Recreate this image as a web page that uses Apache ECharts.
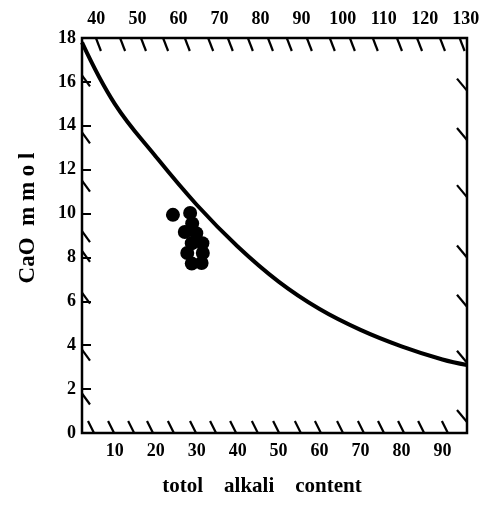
<!DOCTYPE html>
<html>
<head>
<meta charset="utf-8">
<style>
	html, body {margin: 0; padding: 0; background: #fff;}
	#chart-cao {width: 492px; height: 506px;}
</style>
<script src="https://cdn.jsdelivr.net/npm/echarts@6/dist/echarts.min.js"></script>
</head>
<body>
<div id="chart-cao"></div>
<script type="text/javascript">
	// 底部和顶部刻度
	var bottomTicks = [10, 20, 30, 40, 50, 60, 70, 80, 90];
	var topTicks = [40, 50, 60, 70, 80, 90, 100, 110, 120, 130];
	// 曲线
	var curveX = [2, 10, 20, 30, 40, 50, 60, 70, 80, 90, 96];
	var curveY = [17.8, 15.0, 12.6, 10.4, 8.5, 6.9, 5.65, 4.7, 3.95, 3.35, 3.1];
	// 样品点
	var sampleX = [24.2, 28.4, 28.9, 27.1, 29.9, 31.4, 28.8, 27.7, 31.5, 28.8, 31.2];
	var sampleY = [9.94, 10.03, 9.55, 9.16, 9.1, 8.65, 8.65, 8.2, 8.2, 7.72, 7.75];
	// 边框上的斜线
	var hatchTopX = [5.4, 11.3, 16.4, 21.8, 27.1, 32.8, 37.6, 42.5, 47.4, 52.0, 56.9, 62.5, 67.4, 73.0, 78.9, 83.8, 89.4, 94.2];
	var hatchBottomX = [4.2, 9.1, 14.0, 18.6, 23.7, 29.1, 34.0, 38.9, 44.2, 49.4, 54.7, 59.6, 65.0, 70.1, 75.0, 79.9, 84.8, 90.6];
	var hatchLeftY = [16.3, 13.7, 11.5, 9.2, 8.3, 6.4, 3.8, 1.8];
	var hatchRightY = [15.6, 13.35, 10.75, 8.0, 5.75, 3.2, 0.5];

	var fontFamily = '"Liberation Serif", "DejaVu Serif", serif';
	var hatchData = [];
	hatchTopX.forEach(function(x){ hatchData.push([x, 18, 0]); });
	hatchBottomX.forEach(function(x){ hatchData.push([x, 0, 1]); });
	hatchLeftY.forEach(function(y){ hatchData.push([2, y, 2]); });
	hatchRightY.forEach(function(y){ hatchData.push([96, y, 3]); });

	var option = {
		animation: false,
		grid: {
			left: 82, right: 25, top: 38, bottom: 73,
			show: true, borderColor: '#000', borderWidth: 2.5
		},
		xAxis: [
			{
				type: 'value', position: 'bottom', min: 2, max: 96,
				splitLine: {show: false},
				axisLine: {show: false},
				axisTick: {show: false},
				axisLabel: {
					customValues: bottomTicks, color: '#000', fontFamily: fontFamily,
					fontWeight: 'bold', fontSize: 18, margin: 9
				}
			},
			{
				type: 'value', position: 'top', min: 36.5, max: 130.3,
				splitLine: {show: false},
				axisLine: {show: false},
				axisTick: {show: false},
				axisLabel: {
					customValues: topTicks, color: '#000', fontFamily: fontFamily,
					fontWeight: 'bold', fontSize: 18, margin: 10
				}
			}
		],
		yAxis: {
			type: 'value', min: 0, max: 18, interval: 2,
			splitLine: {show: false},
			axisLine: {show: false},
			axisTick: {show: true, inside: true, length: 9, lineStyle: {color: '#000', width: 2}},
			axisLabel: {color: '#000', fontFamily: fontFamily, fontWeight: 'bold', fontSize: 18, margin: 6}
		},
		graphic: [
			{
				type: 'text', x: 28, y: 218, rotation: Math.PI / 2,
				style: {
					text: 'CaO  m m o l', fill: '#000', font: 'bold 23px ' + fontFamily,
					align: 'center', verticalAlign: 'middle'
				}
			},
			{
				type: 'text', x: 262, y: 487,
				style: {
					text: 'totol    alkali    content', fill: '#000', font: 'bold 21px ' + fontFamily,
					align: 'center', verticalAlign: 'middle'
				}
			}
		],
		series: [
			{
				type: 'line',
				data: curveX.map(function(x, i){ return [x, curveY[i]]; }),
				smooth: 0.4,
				showSymbol: false,
				lineStyle: {color: '#000', width: 4}
			},
			{
				type: 'scatter',
				data: sampleX.map(function(x, i){ return [x, sampleY[i]]; }),
				symbolSize: 14,
				itemStyle: {color: '#000', opacity: 1}
			},
			{
				type: 'custom',
				data: hatchData,
				silent: true,
				renderItem: function(params, api){
					var p = api.coord([api.value(0), api.value(1)]);
					var kind = api.value(2);
					var s;
					if (kind === 0) {
						s = {x1: p[0], y1: p[1], x2: p[0] + 5, y2: p[1] + 13};
					} else if (kind === 1) {
						s = {x1: p[0] - 3, y1: p[1] - 12, x2: p[0] + 3, y2: p[1]};
					} else if (kind === 2) {
						s = {x1: p[0], y1: p[1], x2: p[0] + 8, y2: p[1] + 11};
					} else {
						s = {x1: p[0] - 10, y1: p[1] - 12, x2: p[0], y2: p[1]};
					}
					return {
						type: 'line', shape: s,
						style: {stroke: '#000', lineWidth: 2.2}
					};
				}
			}
		]
	};
	var myChart = echarts.init(document.getElementById('chart-cao'));
	myChart.setOption(option);
</script>
</body>
</html>
